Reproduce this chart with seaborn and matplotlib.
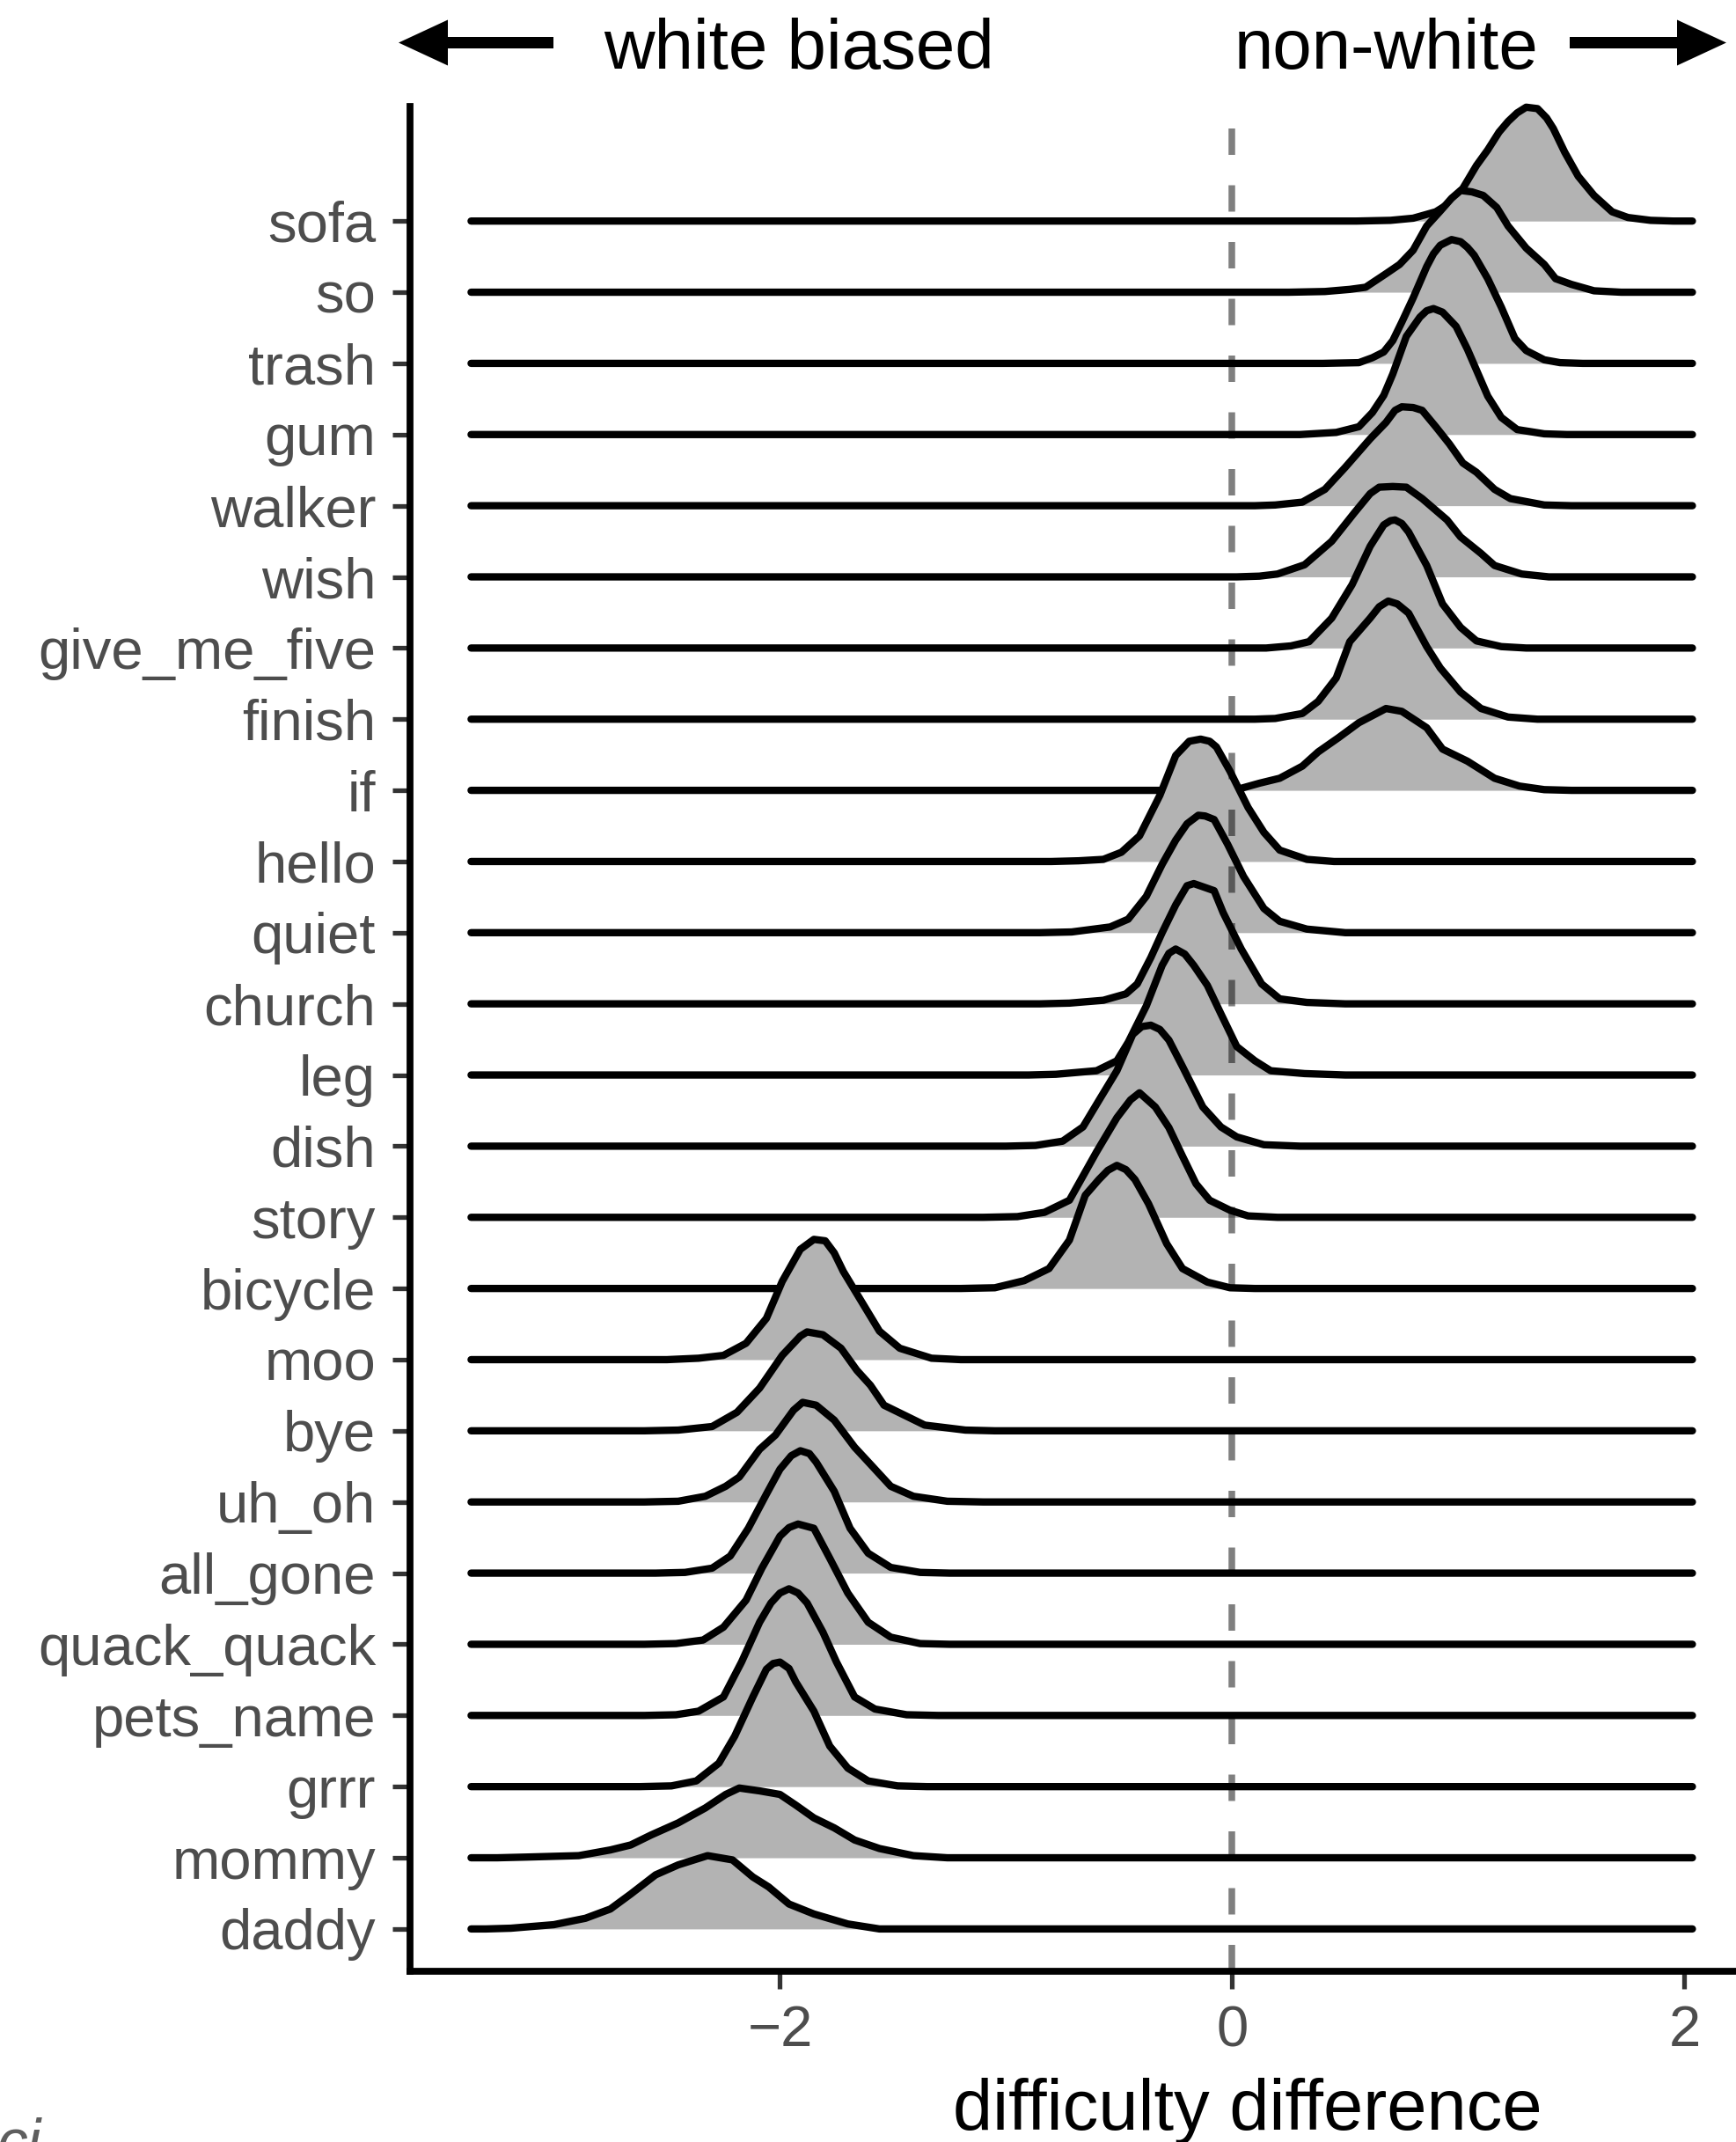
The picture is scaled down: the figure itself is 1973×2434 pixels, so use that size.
import matplotlib
matplotlib.use("Agg")
import matplotlib.pyplot as plt
from matplotlib.patches import FancyArrow
import seaborn as sns

# Words, top row first
words = ["sofa", "so", "trash", "gum", "walker", "wish", "give_me_five", "finish",
         "if", "hello", "quiet", "church", "leg", "dish", "story", "bicycle",
         "moo", "bye", "uh_oh", "all_gone", "quack_quack", "pets_name", "grrr",
         "mommy", "daddy"]

# Common support of all density curves
x_range = [-3.366, 2.035]

# Density curves: x positions and scaled heights (in row units)
sofa_x = [0.55, 0.70, 0.80, 0.90, 0.96, 1.02, 1.08, 1.13, 1.18, 1.22, 1.26, 1.30, 1.35, 1.39, 1.42, 1.47, 1.53, 1.60, 1.68, 1.75, 1.85, 1.95]
sofa_h = [0.00, 0.01, 0.04, 0.13, 0.25, 0.46, 0.78, 1.00, 1.25, 1.40, 1.52, 1.60, 1.58, 1.45, 1.30, 0.97, 0.63, 0.36, 0.13, 0.05, 0.01, 0.00]

so_x = [0.25, 0.41, 0.52, 0.59, 0.68, 0.74, 0.80, 0.86, 0.92, 0.97, 1.01, 1.06, 1.11, 1.17, 1.22, 1.30, 1.38, 1.43, 1.50, 1.60, 1.72]
so_h = [0.00, 0.01, 0.04, 0.07, 0.26, 0.39, 0.59, 0.93, 1.14, 1.32, 1.43, 1.41, 1.36, 1.19, 0.93, 0.62, 0.39, 0.19, 0.11, 0.02, 0.00]

trash_x = [0.40, 0.56, 0.62, 0.67, 0.71, 0.75, 0.80, 0.86, 0.89, 0.92, 0.97, 1.01, 1.04, 1.07, 1.13, 1.19, 1.25, 1.30, 1.38, 1.45, 1.55]
trash_h = [0.00, 0.01, 0.08, 0.16, 0.32, 0.58, 0.92, 1.36, 1.54, 1.66, 1.74, 1.71, 1.63, 1.52, 1.19, 0.79, 0.35, 0.18, 0.05, 0.01, 0.00]

gum_x = [0.30, 0.46, 0.56, 0.62, 0.67, 0.71, 0.77, 0.83, 0.86, 0.89, 0.93, 0.99, 1.04, 1.07, 1.13, 1.19, 1.26, 1.38, 1.48]
gum_h = [0.00, 0.03, 0.11, 0.31, 0.55, 0.85, 1.38, 1.65, 1.74, 1.77, 1.72, 1.52, 1.20, 0.98, 0.54, 0.24, 0.07, 0.01, 0.00]

walker_x = [0.10, 0.19, 0.31, 0.41, 0.50, 0.61, 0.68, 0.72, 0.75, 0.80, 0.84, 0.90, 0.96, 1.02, 1.08, 1.16, 1.23, 1.38, 1.50]
walker_h = [0.00, 0.01, 0.05, 0.23, 0.54, 0.94, 1.17, 1.34, 1.39, 1.38, 1.34, 1.11, 0.87, 0.60, 0.47, 0.23, 0.10, 0.01, 0.00]

wish_x = [0.02, 0.12, 0.20, 0.32, 0.44, 0.54, 0.61, 0.65, 0.71, 0.77, 0.84, 0.95, 1.01, 1.10, 1.16, 1.28, 1.40]
wish_h = [0.00, 0.01, 0.04, 0.17, 0.50, 0.90, 1.17, 1.26, 1.27, 1.26, 1.10, 0.80, 0.56, 0.33, 0.16, 0.04, 0.00]

give_me_five_x = [0.15, 0.26, 0.34, 0.44, 0.53, 0.61, 0.67, 0.70, 0.72, 0.75, 0.78, 0.86, 0.93, 1.01, 1.08, 1.19, 1.30]
give_me_five_h = [0.00, 0.03, 0.09, 0.42, 0.89, 1.43, 1.73, 1.79, 1.80, 1.75, 1.63, 1.16, 0.62, 0.29, 0.10, 0.02, 0.00]

finish_x = [0.10, 0.19, 0.31, 0.38, 0.46, 0.52, 0.61, 0.65, 0.69, 0.73, 0.78, 0.86, 0.92, 1.01, 1.10, 1.22, 1.35]
finish_h = [0.00, 0.01, 0.08, 0.25, 0.58, 1.09, 1.42, 1.58, 1.66, 1.62, 1.49, 1.02, 0.72, 0.38, 0.15, 0.03, 0.00]

if_x = [-0.10, 0.03, 0.12, 0.21, 0.31, 0.38, 0.47, 0.56, 0.62, 0.68, 0.75, 0.86, 0.93, 1.04, 1.16, 1.27, 1.38, 1.50]
if_h = [0.00, 0.02, 0.10, 0.17, 0.34, 0.54, 0.74, 0.95, 1.05, 1.15, 1.11, 0.88, 0.58, 0.41, 0.17, 0.06, 0.01, 0.00]

hello_x = [-0.80, -0.68, -0.57, -0.49, -0.41, -0.32, -0.25, -0.19, -0.14, -0.10, -0.07, -0.01, 0.07, 0.14, 0.21, 0.33, 0.45]
hello_h = [0.00, 0.01, 0.03, 0.13, 0.36, 0.93, 1.49, 1.69, 1.72, 1.69, 1.61, 1.27, 0.76, 0.41, 0.16, 0.03, 0.00]

quiet_x = [-0.85, -0.71, -0.54, -0.46, -0.38, -0.31, -0.25, -0.20, -0.15, -0.12, -0.08, -0.02, 0.05, 0.14, 0.21, 0.33, 0.50]
quiet_h = [0.00, 0.01, 0.08, 0.19, 0.51, 0.96, 1.30, 1.53, 1.65, 1.64, 1.59, 1.24, 0.79, 0.34, 0.16, 0.05, 0.00]

church_x = [-0.85, -0.72, -0.57, -0.47, -0.42, -0.36, -0.31, -0.25, -0.20, -0.17, -0.08, -0.04, 0.04, 0.13, 0.21, 0.33, 0.50]
church_h = [0.00, 0.01, 0.05, 0.14, 0.28, 0.65, 1.00, 1.39, 1.66, 1.69, 1.59, 1.28, 0.77, 0.28, 0.07, 0.02, 0.00]

leg_x = [-0.90, -0.78, -0.60, -0.51, -0.46, -0.38, -0.31, -0.28, -0.25, -0.21, -0.17, -0.11, -0.05, 0.02, 0.10, 0.17, 0.32, 0.50]
leg_h = [0.00, 0.01, 0.06, 0.20, 0.46, 0.97, 1.54, 1.71, 1.77, 1.70, 1.54, 1.26, 0.86, 0.40, 0.20, 0.06, 0.02, 0.00]

dish_x = [-1.00, -0.87, -0.75, -0.66, -0.59, -0.51, -0.44, -0.40, -0.36, -0.32, -0.28, -0.22, -0.13, -0.05, 0.02, 0.14, 0.30]
dish_h = [0.00, 0.01, 0.07, 0.27, 0.64, 1.06, 1.57, 1.68, 1.70, 1.64, 1.49, 1.12, 0.55, 0.27, 0.13, 0.02, 0.00]

story_x = [-1.10, -0.95, -0.83, -0.72, -0.66, -0.60, -0.51, -0.45, -0.41, -0.34, -0.28, -0.22, -0.16, -0.10, -0.01, 0.07, 0.20]
story_h = [0.00, 0.01, 0.07, 0.24, 0.58, 0.92, 1.40, 1.65, 1.75, 1.55, 1.26, 0.86, 0.47, 0.24, 0.10, 0.02, 0.00]

bicycle_x = [-1.20, -1.05, -0.92, -0.81, -0.72, -0.65, -0.59, -0.55, -0.51, -0.47, -0.43, -0.37, -0.29, -0.22, -0.11, -0.01, 0.10]
bicycle_h = [0.00, 0.01, 0.11, 0.28, 0.68, 1.31, 1.53, 1.66, 1.73, 1.67, 1.53, 1.19, 0.63, 0.28, 0.09, 0.01, 0.00]

moo_x = [-2.50, -2.36, -2.25, -2.15, -2.06, -1.99, -1.91, -1.85, -1.80, -1.76, -1.72, -1.64, -1.56, -1.47, -1.33, -1.20]
moo_h = [0.00, 0.02, 0.06, 0.23, 0.58, 1.10, 1.55, 1.69, 1.67, 1.50, 1.24, 0.82, 0.40, 0.16, 0.02, 0.00]

bye_x = [-2.60, -2.45, -2.30, -2.19, -2.09, -1.99, -1.91, -1.88, -1.81, -1.73, -1.66, -1.60, -1.54, -1.45, -1.36, -1.18, -1.05]
bye_h = [0.00, 0.01, 0.06, 0.26, 0.60, 1.06, 1.33, 1.39, 1.35, 1.16, 0.85, 0.64, 0.36, 0.22, 0.08, 0.01, 0.00]

uh_oh_x = [-2.60, -2.45, -2.33, -2.24, -2.18, -2.09, -2.02, -1.94, -1.90, -1.84, -1.76, -1.67, -1.60, -1.51, -1.41, -1.26, -1.10]
uh_oh_h = [0.00, 0.01, 0.08, 0.22, 0.35, 0.74, 0.94, 1.29, 1.40, 1.36, 1.15, 0.77, 0.53, 0.22, 0.08, 0.01, 0.00]

all_gone_x = [-2.55, -2.42, -2.30, -2.22, -2.14, -2.06, -2.00, -1.95, -1.91, -1.87, -1.84, -1.76, -1.69, -1.61, -1.51, -1.38, -1.25]
all_gone_h = [0.00, 0.01, 0.07, 0.24, 0.63, 1.11, 1.46, 1.65, 1.72, 1.68, 1.56, 1.15, 0.63, 0.28, 0.08, 0.01, 0.00]

quack_quack_x = [-2.60, -2.46, -2.34, -2.25, -2.15, -2.08, -2.00, -1.96, -1.92, -1.85, -1.78, -1.70, -1.61, -1.51, -1.38, -1.25]
quack_quack_h = [0.00, 0.01, 0.06, 0.24, 0.62, 1.07, 1.52, 1.64, 1.69, 1.63, 1.21, 0.72, 0.31, 0.10, 0.01, 0.00]

pets_name_x = [-2.60, -2.46, -2.36, -2.25, -2.17, -2.09, -2.04, -2.00, -1.96, -1.92, -1.88, -1.81, -1.75, -1.67, -1.58, -1.44, -1.30]
pets_name_h = [0.00, 0.01, 0.06, 0.26, 0.75, 1.31, 1.58, 1.72, 1.78, 1.72, 1.58, 1.17, 0.75, 0.26, 0.09, 0.01, 0.00]

grrr_x = [-2.62, -2.48, -2.37, -2.27, -2.20, -2.12, -2.06, -2.03, -2.00, -1.96, -1.93, -1.85, -1.78, -1.70, -1.61, -1.48, -1.35]
grrr_h = [0.00, 0.01, 0.08, 0.33, 0.71, 1.26, 1.65, 1.73, 1.75, 1.66, 1.47, 1.06, 0.57, 0.26, 0.08, 0.01, 0.00]

mommy_x = [-3.25, -3.12, -2.89, -2.75, -2.66, -2.57, -2.45, -2.33, -2.24, -2.18, -2.09, -2.00, -1.93, -1.85, -1.76, -1.67, -1.56, -1.41, -1.26]
mommy_h = [0.00, 0.01, 0.03, 0.11, 0.18, 0.32, 0.49, 0.70, 0.89, 0.98, 0.94, 0.89, 0.74, 0.56, 0.42, 0.25, 0.13, 0.03, 0.00]

daddy_x = [-3.30, -3.19, -3.00, -2.86, -2.75, -2.66, -2.55, -2.45, -2.32, -2.21, -2.12, -2.05, -1.96, -1.85, -1.70, -1.56]
daddy_h = [0.00, 0.01, 0.06, 0.15, 0.28, 0.49, 0.76, 0.90, 1.03, 0.97, 0.73, 0.59, 0.35, 0.21, 0.07, 0.00]

curves = {
    "sofa": (sofa_x, sofa_h), "so": (so_x, so_h), "trash": (trash_x, trash_h),
    "gum": (gum_x, gum_h), "walker": (walker_x, walker_h), "wish": (wish_x, wish_h),
    "give_me_five": (give_me_five_x, give_me_five_h), "finish": (finish_x, finish_h),
    "if": (if_x, if_h), "hello": (hello_x, hello_h), "quiet": (quiet_x, quiet_h),
    "church": (church_x, church_h), "leg": (leg_x, leg_h), "dish": (dish_x, dish_h),
    "story": (story_x, story_h), "bicycle": (bicycle_x, bicycle_h), "moo": (moo_x, moo_h),
    "bye": (bye_x, bye_h), "uh_oh": (uh_oh_x, uh_oh_h), "all_gone": (all_gone_x, all_gone_h),
    "quack_quack": (quack_quack_x, quack_quack_h), "pets_name": (pets_name_x, pets_name_h),
    "grrr": (grrr_x, grrr_h), "mommy": (mommy_x, mommy_h), "daddy": (daddy_x, daddy_h),
}

x_ticks = [-2, 0, 2]
x_tick_labels = ["\u22122", "0", "2"]

# ---- styling ----
sns.set_theme(style="ticks")
plt.rcParams["font.family"] = ["Liberation Sans", "DejaVu Sans"]

W, H, DPI = 1973, 2434, 100
fig = plt.figure(figsize=(W / DPI, H / DPI), dpi=DPI)
fig.patch.set_facecolor("white")

xlim = (-3.636, 2.305)
ylim = (0.405, 26.61)
px_per_unit = 257.0
ax = fig.add_axes([466 / W, 1 - 2240 / H,
                   (xlim[1] - xlim[0]) * px_per_unit / W, (2240 - 121) / H])
ax.set_facecolor("white")

LW = 6.0
n = len(words)
for i, w in enumerate(words):
    base = n - i
    cx, ch = curves[w]
    xs = [x_range[0]] + list(cx) + [x_range[1]]
    ys = [base] + [base + v for v in ch] + [base]
    ax.fill_between(xs, base, ys, color="#B3B3B3", lw=0, zorder=2 + 2 * i)
    sns.lineplot(x=xs, y=ys, ax=ax, color="black", linewidth=LW, estimator=None,
                 sort=False, zorder=3 + 2 * i, solid_capstyle="round",
                 solid_joinstyle="round", clip_on=False)

ax.axvline(0, color="black", alpha=0.5, linewidth=5.4, dashes=(4.0, 4.6), zorder=200)

ax.set_xlim(*xlim)
ax.set_ylim(*ylim)
ax.set_xticks(x_ticks, x_tick_labels)
ax.set_yticks([n - i for i in range(n)], words)
ax.set_xlabel("")
ax.set_ylabel("")

sns.despine(ax=ax)
for side in ("left", "bottom"):
    ax.spines[side].set_color("black")
    ax.spines[side].set_linewidth(5.6)
    ax.spines[side].set_capstyle("projecting")
    ax.spines[side].set_zorder(300)

ax.tick_params(axis="both", length=14.5, width=3.8, color="#333333",
               labelcolor="#4D4D4D", labelsize=47)
ax.tick_params(axis="y", pad=13.5)
ax.tick_params(axis="x", pad=13)

# ---- annotations in pixel space ----
ov = fig.add_axes([0, 0, 1, 1])
ov.set_xlim(0, W)
ov.set_ylim(H, 0)
ov.axis("off")

ov.add_patch(FancyArrow(629, 48.5, -176, 0, width=13, head_width=52,
                        head_length=56, length_includes_head=True,
                        color="black", lw=0))
ov.add_patch(FancyArrow(1784, 48.5, 178, 0, width=13, head_width=52,
                        head_length=56, length_includes_head=True,
                        color="black", lw=0))
ov.text(686, 78, "white biased", fontsize=57.5, color="black",
        ha="left", va="baseline")
ov.text(1403, 78, "non-white", fontsize=57.5, color="black",
        ha="left", va="baseline")
ov.text(1083, 2420, "difficulty difference", fontsize=58.5, color="black",
        ha="left", va="baseline")
ov.text(-3, 2456, "ci", fontsize=50, color="#5E5E5E", style="italic",
        ha="left", va="baseline")

fig.savefig("out.png", dpi=DPI)
